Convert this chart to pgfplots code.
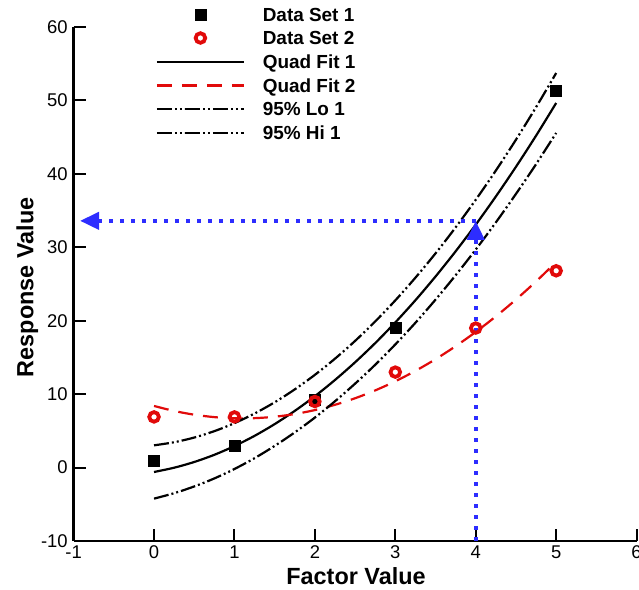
\documentclass[border=0pt]{standalone}
\usepackage{fontspec}
\setmainfont{Liberation Sans}
\usepackage{pgfplots}
\pgfplotsset{compat=1.18}
\usetikzlibrary{arrows.meta}
\definecolor{fitred}{RGB}{225,10,10}
\definecolor{arrowblue}{RGB}{45,45,255}
\begin{document}
\begin{tikzpicture}
\begin{axis}[
  scale only axis, width=563bp, height=514bp,
  xmin=-1, xmax=6, ymin=-10, ymax=60,
  xtick={-1,0,...,6}, ytick={-10,0,...,60},
  axis x line*=bottom, axis y line*=left,
  axis line style={line width=2.2bp, -},
  tick align=inside, major tick length=12bp,
  every tick/.style={black, line width=2bp},
  /pgf/number format/assume math mode=true,
  tick label style={font=\fontsize{18.5}{18.5}\selectfont},
  xticklabel style={yshift=-1.3bp},
  yticklabel style={xshift=-2.4bp},
  xlabel={Factor Value}, ylabel={Response Value},
  every axis x label/.style={at={(axis description cs:0.5016,-0.0856)}, anchor=base, font=\fontsize{23.5}{23.5}\selectfont\bfseries},
  every axis y label/.style={at={(axis description cs:-0.0716,0.4934)}, rotate=90, anchor=base, font=\fontsize{23.5}{23.5}\selectfont\bfseries},
  legend style={draw=none, fill=none, at={(axis description cs:0.1446,1.037)}, anchor=north west,
    inner sep=0pt, outer sep=0pt, row sep=10.2bp, column sep=17bp,
    nodes={inner sep=0pt, text depth=0pt}, font=\fontsize{19}{19}\selectfont\bfseries},
  legend cell align=left,
  legend image code/.code={\path (0bp,-1bp) (87bp,1bp);
    \draw[mark repeat=2,mark phase=2] plot coordinates {(0bp,0bp) (43.5bp,0bp) (87bp,0bp)};},
]
% Data Set 1
\addplot[only marks, mark=square*, mark size=5.5bp, black] coordinates {
 (0,1.0) (1,3.0) (2,9.2) (3,19.0) (5,51.3)};
% Data Set 2
\addplot[only marks, mark=o, mark size=4.8bp, fitred, line width=3.8bp,
  mark options={line width=3.8bp, solid}] coordinates {
 (0,6.9) (1,6.9) (2,9.0) (3,13.0) (4,19.0) (5,26.8)};
% Quad Fit 1
\addplot[no marks, smooth, black, line width=2.2bp] coordinates {
 (0,-0.60) (0.25,-0.02) (0.5,0.76) (0.75,1.74) (1,2.93) (1.25,4.32) (1.5,5.92) (1.75,7.72)
 (2,9.72) (2.25,11.93) (2.5,14.34) (2.75,16.95) (3,19.77) (3.25,22.79) (3.5,26.02)
 (3.75,29.45) (4,33.08) (4.25,36.92) (4.5,40.96) (4.75,45.20) (5,49.65)};
% Quad Fit 2
\addplot[no marks, smooth, fitred, line width=2.2bp, dash pattern=on 15bp off 10bp] coordinates {
 (0,8.39) (0.25,7.71) (0.5,7.20) (0.75,6.87) (1,6.71) (1.25,6.73) (1.5,6.92) (1.75,7.29)
 (2,7.83) (2.25,8.55) (2.5,9.44) (2.75,10.51) (3,11.75) (3.25,13.17) (3.5,14.76)
 (3.75,16.53) (4,18.47) (4.25,20.59) (4.5,22.88) (4.75,25.35) (5,27.99)};
% 95% Lo 1
\addplot[no marks, smooth, black, line width=2.2bp, dash pattern=on 15bp off 3bp on 2bp off 3bp on 2bp off 3bp] coordinates {
 (0,-4.23) (0.25,-3.49) (0.5,-2.57) (0.75,-1.48) (1,-0.19) (1.25,1.28) (1.5,2.95) (1.75,4.79)
 (2,6.81) (2.25,9.03) (2.5,11.43) (2.75,14.00) (3,16.77) (3.25,19.72) (3.5,22.87)
 (3.75,26.19) (4,29.69) (4.25,33.39) (4.5,37.27) (4.75,41.32) (5,45.57)};
% 95% Hi 1
\addplot[no marks, smooth, black, line width=2.2bp, dash pattern=on 15bp off 3bp on 2bp off 3bp on 2bp off 3bp] coordinates {
 (0,3.03) (0.25,3.45) (0.5,4.09) (0.75,4.96) (1,6.05) (1.25,7.36) (1.5,8.89) (1.75,10.65)
 (2,12.63) (2.25,14.83) (2.5,17.25) (2.75,19.90) (3,22.77) (3.25,25.86) (3.5,29.17)
 (3.75,32.71) (4,36.47) (4.25,40.45) (4.5,44.65) (4.75,49.08) (5,53.73)};
\legend{Data Set 1, Data Set 2, Quad Fit 1, Quad Fit 2, 95\% Lo 1, 95\% Hi 1}
% blue arrows
\addplot[forget plot, no marks, arrowblue, line width=4bp, dash pattern=on 4bp off 7bp,
  -{Triangle[length=19bp,width=17bp]}] coordinates {(4,-10) (4,33.6)};
\addplot[forget plot, no marks, arrowblue, line width=4bp, dash pattern=on 4bp off 7bp,
  -{Triangle[length=19bp,width=17bp]}] coordinates {(4,33.6) (-0.92,33.6)};
\end{axis}
\pgfresetboundingbox
\path (current axis.south west) ++(-73.6bp,-49bp) rectangle ++(639bp,590bp);
\end{tikzpicture}
\end{document}
